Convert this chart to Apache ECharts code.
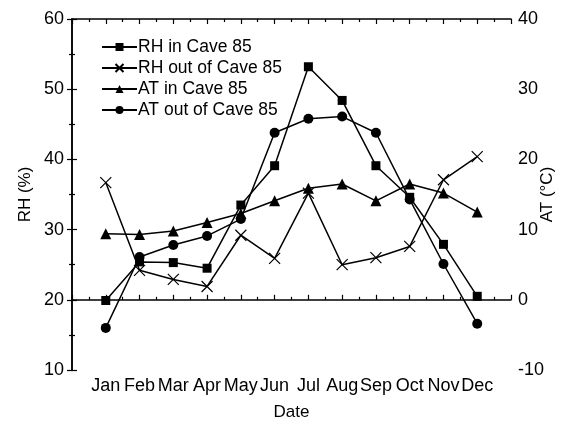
<!DOCTYPE html>
<html>
<head>
<meta charset="utf-8">
<script src="https://cdn.jsdelivr.net/npm/echarts@6/dist/echarts.min.js"></script>
<style>
  html, body { margin: 0; padding: 0; background: #fff; }
  #chart { width: 564px; height: 427px; }
</style>
</head>
<body>
<div id="chart"></div>
<script>
// Month labels on the x axis (month 1..12)
const months = ['Jan', 'Feb', 'Mar', 'Apr', 'May', 'Jun', 'Jul', 'Aug', 'Sep', 'Oct', 'Nov', 'Dec'];

// Relative humidity (%), left axis
const rhIn  = [19.9, 25.4, 25.3, 24.5, 33.5, 39.1, 53.2, 48.4, 39.1, 34.6, 27.9, 20.5];
const rhOut = [36.7, 24.2, 22.9, 21.9, 29.2, 25.9, 35.2, 25.0, 26.0, 27.6, 37.1, 40.4];

// Air temperature (°C), right axis
const atIn  = [9.4, 9.3, 9.8, 11.0, 12.3, 14.1, 15.9, 16.5, 14.1, 16.5, 15.2, 12.5];
const atOut = [-4.0, 6.1, 7.8, 9.1, 11.5, 23.8, 25.8, 26.1, 23.8, 14.3, 5.1, -3.4];

const seriesNames = ['RH in Cave 85', 'RH out of Cave 85', 'AT in Cave 85', 'AT out of Cave 85'];

const FONT = 'Liberation Sans, Arial, sans-serif';

function pairs(values) {
  return values.map((v, i) => [i + 1, v]);
}

const crossPath = 'path://M0,0L10,10M10,0L0,10';

const chart = echarts.init(document.getElementById('chart'), null, { renderer: 'canvas' });

const tickCommon = {
  axisLine: { show: true, lineStyle: { color: '#000', width: 1.5 } },
  axisTick: { show: true, inside: true, length: 5, lineStyle: { color: '#000', width: 1.2 } },
  minorTick: { show: true, splitNumber: 2, length: 3, lineStyle: { color: '#000', width: 1.2 } },
  splitLine: { show: false },
  minorSplitLine: { show: false }
};

function lineSeries(name, data, yIndex, symbol, size) {
  return {
    name: name,
    type: 'line',
    yAxisIndex: yIndex,
    data: data,
    symbol: symbol,
    symbolSize: size,
    showAllSymbol: true,
    lineStyle: { color: '#000', width: 1.5 },
    itemStyle: { color: '#000', borderColor: '#000', borderWidth: 0 },
    emphasis: { disabled: true },
    animation: false,
    z: 3
  };
}

chart.setOption({
  animation: false,
  backgroundColor: '#fff',
  textStyle: { fontFamily: FONT, color: '#000' },
  grid: { left: 72, right: 53, top: 19, bottom: 57, containLabel: false, outerBoundsMode: 'none' },
  legend: {
    left: 96,
    top: 33,
    orient: 'vertical',
    itemWidth: 35,
    itemHeight: 10,
    itemGap: 3,
    data: seriesNames,
    textStyle: { fontFamily: FONT, fontSize: 17.5, color: '#000', padding: [0, 0, 0, -4] },
    selectedMode: false
  },
  xAxis: [
    Object.assign({
      type: 'value',
      min: 0,
      max: 13,
      interval: 1,
      position: 'bottom',
      name: 'Date',
      nameLocation: 'middle',
      nameGap: 34,
      nameTextStyle: { fontFamily: FONT, fontSize: 17, color: '#000' },
      axisLabel: {
        fontFamily: FONT,
        fontSize: 18,
        color: '#000',
        margin: 7,
        formatter: v => (v >= 1 && v <= 12 ? months[v - 1] : '')
      }
    }, tickCommon),
    Object.assign({
      type: 'value',
      min: 0,
      max: 13,
      interval: 1,
      position: 'top',
      axisLabel: { show: false }
    }, tickCommon)
  ],
  yAxis: [
    Object.assign({
      type: 'value',
      min: 10,
      max: 60,
      interval: 10,
      position: 'left',
      name: 'RH (%)',
      nameLocation: 'middle',
      nameMoveOverlap: false,
      nameGap: 38,
      nameTextStyle: { fontFamily: FONT, fontSize: 17, color: '#000' },
      axisLabel: { fontFamily: FONT, fontSize: 18, color: '#000', margin: 8 }
    }, tickCommon),
    Object.assign({
      type: 'value',
      min: -10,
      max: 40,
      interval: 10,
      position: 'right',
      name: 'AT (°C)',
      nameLocation: 'middle',
      nameMoveOverlap: false,
      nameGap: 28,
      nameTextStyle: { fontFamily: FONT, fontSize: 17, color: '#000' },
      axisLabel: { fontFamily: FONT, fontSize: 18, color: '#000', margin: 7 }
    }, tickCommon)
  ],
  series: [
    lineSeries(seriesNames[0], pairs(rhIn), 0, 'rect', 9),
    Object.assign(lineSeries(seriesNames[1], pairs(rhOut), 0, crossPath, 11), {
      itemStyle: { color: 'rgba(0,0,0,0)', borderColor: '#000', borderWidth: 1.2 }
    }),
    lineSeries(seriesNames[2], pairs(atIn), 1, 'triangle', 11),
    lineSeries(seriesNames[3], pairs(atOut), 1, 'circle', 10)
  ]
});
</script>
</body>
</html>
